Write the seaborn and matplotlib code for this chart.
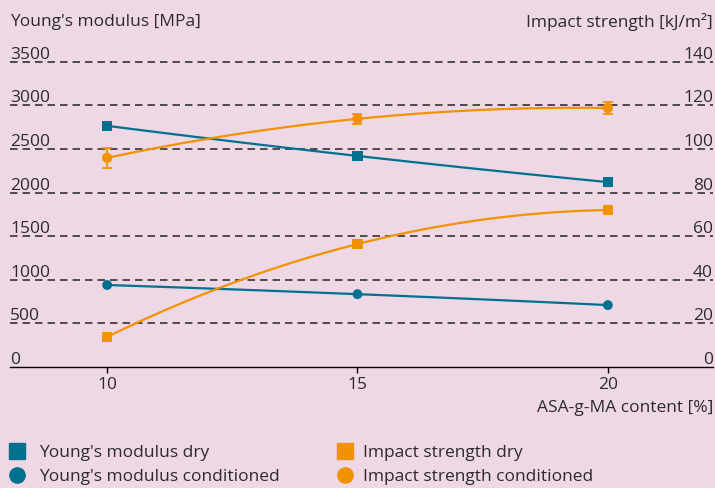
import numpy as np
import pandas as pd
import matplotlib
matplotlib.use("Agg")
import matplotlib.pyplot as plt
import matplotlib.transforms as mtransforms
from matplotlib.lines import Line2D
import seaborn as sns

# ---- data ----
content = [10, 15, 20]
ym_dry = [2765, 2420, 2120]
ym_cond = [940, 835, 710]
is_dry = [13.8, 56.4, 72.0]
is_cond = [95.9, 113.8, 118.8]
is_cond_err = [4.6, 2.3, 2.7]
left_ticks = [0, 500, 1000, 1500, 2000, 2500, 3000, 3500]
right_ticks = [0, 20, 40, 60, 80, 100, 120, 140]
x_ticks = [10, 15, 20]
labels = ["Young's modulus dry", "Young's modulus conditioned",
          "Impact strength dry", "Impact strength conditioned"]

BLUE = "#00708F"
ORANGE = "#F39200"
BG = "#EFD8E6"
TXT = "#2b2b2b"
FS = 12.5

sns.set_theme(style="white")
plt.rcParams['font.family'] = ['Open Sans', 'DejaVu Sans']
plt.rcParams['text.color'] = TXT

fig = plt.figure(figsize=(7.15, 4.88), dpi=100, facecolor=BG)
ax = fig.add_axes([10/715, (488-367)/488, 703/715, 314/488])
ax.set_facecolor(BG)
ax2 = ax.twinx()

ymax = 3600
ax.set_ylim(0, ymax)
ax2.set_ylim(0, ymax * 0.04)
ax.set_xlim(8.06, 22.1)

df = pd.DataFrame({"x": content, "ym_dry": ym_dry, "ym_cond": ym_cond,
                   "is_dry": is_dry, "is_cond": is_cond})

lw = 1.6
sns.regplot(data=df, x="x", y="ym_dry", order=2, ci=None, scatter=False, truncate=True,
            ax=ax, color=BLUE, line_kws=dict(lw=lw))
sns.regplot(data=df, x="x", y="ym_cond", order=2, ci=None, scatter=False, truncate=True,
            ax=ax, color=BLUE, line_kws=dict(lw=lw))
sns.regplot(data=df, x="x", y="is_dry", order=2, ci=None, scatter=False, truncate=True,
            ax=ax2, color=ORANGE, line_kws=dict(lw=lw))
sns.regplot(data=df, x="x", y="is_cond", order=2, ci=None, scatter=False, truncate=True,
            ax=ax2, color=ORANGE, line_kws=dict(lw=lw))

ax2.errorbar(content, is_cond, yerr=is_cond_err, fmt="none", ecolor=ORANGE,
             elinewidth=1.3, capsize=3.5, capthick=1.3)

sns.scatterplot(data=df, x="x", y="ym_dry", ax=ax, marker="s", s=55, color=BLUE,
                edgecolor="none", zorder=5, clip_on=False)
sns.scatterplot(data=df, x="x", y="ym_cond", ax=ax, marker="o", s=50, color=BLUE,
                edgecolor="none", zorder=5, clip_on=False)
sns.scatterplot(data=df, x="x", y="is_dry", ax=ax2, marker="s", s=55, color=ORANGE,
                edgecolor="none", zorder=5, clip_on=False)
sns.scatterplot(data=df, x="x", y="is_cond", ax=ax2, marker="o", s=55, color=ORANGE,
                edgecolor="none", zorder=5, clip_on=False)

for a in (ax, ax2):
    a.set_xlabel("")
    a.set_ylabel("")
    a.set_yticks([])
    for s in a.spines.values():
        s.set_visible(False)
ax.spines['bottom'].set_visible(True)
ax.spines['bottom'].set_color("black")
ax.spines['bottom'].set_linewidth(1.0)

# dashed grid lines
for v in left_ticks[1:]:
    ax.axhline(v, color="#333333", lw=1.2, ls=(0, (4.5, 3)), zorder=1)

# inside tick labels
tr = mtransforms.blended_transform_factory(ax.transAxes, ax.transData)
off = mtransforms.ScaledTranslation(0, 2.2/72, fig.dpi_scale_trans)
for v in left_ticks:
    ax.text(0, v, f"{v}", transform=tr + off, ha="left", va="baseline", fontsize=FS, color=TXT)
tr2 = mtransforms.blended_transform_factory(ax2.transAxes, ax2.transData)
for v in right_ticks:
    ax2.text(1, v, f"{v}", transform=tr2 + off, ha="right", va="baseline", fontsize=FS, color=TXT)

ax.set_xticks(x_ticks)
ax.set_xticklabels([str(t) for t in x_ticks], fontsize=FS, color=TXT)
ax.tick_params(axis="x", bottom=True, direction="out", length=4, width=1, color="black", pad=3)

fig.text(10/715, 1 - 22/488, "Young's modulus [MPa]", ha="left", va="center", fontsize=FS, color=TXT)
fig.text(713/715, 1 - 22/488, "Impact strength [kJ/m²]", ha="right", va="center", fontsize=FS, color=TXT)
fig.text(713/715, 1 - 408/488, "ASA-g-MA content [%]", ha="right", va="center", fontsize=FS, color=TXT)

MS = 11
h_blue = [Line2D([], [], ls="none", marker="s", color=BLUE, markersize=MS),
          Line2D([], [], ls="none", marker="o", color=BLUE, markersize=MS)]
h_orange = [Line2D([], [], ls="none", marker="s", color=ORANGE, markersize=MS),
            Line2D([], [], ls="none", marker="o", color=ORANGE, markersize=MS)]
leg1 = fig.legend(h_blue, labels[:2], loc="center left", bbox_to_anchor=(8.5/715, 1 - 465/488),
                  frameon=False, fontsize=FS, handlelength=1.0, handletextpad=0.75,
                  labelspacing=0.5, borderaxespad=0, borderpad=0)
leg2 = fig.legend(h_orange, labels[2:], loc="center left", bbox_to_anchor=(336/715, 1 - 465/488),
                  frameon=False, fontsize=FS, handlelength=1.0, handletextpad=0.55,
                  labelspacing=0.5, borderaxespad=0, borderpad=0)

fig.savefig("out.png", dpi=100, facecolor=BG)
